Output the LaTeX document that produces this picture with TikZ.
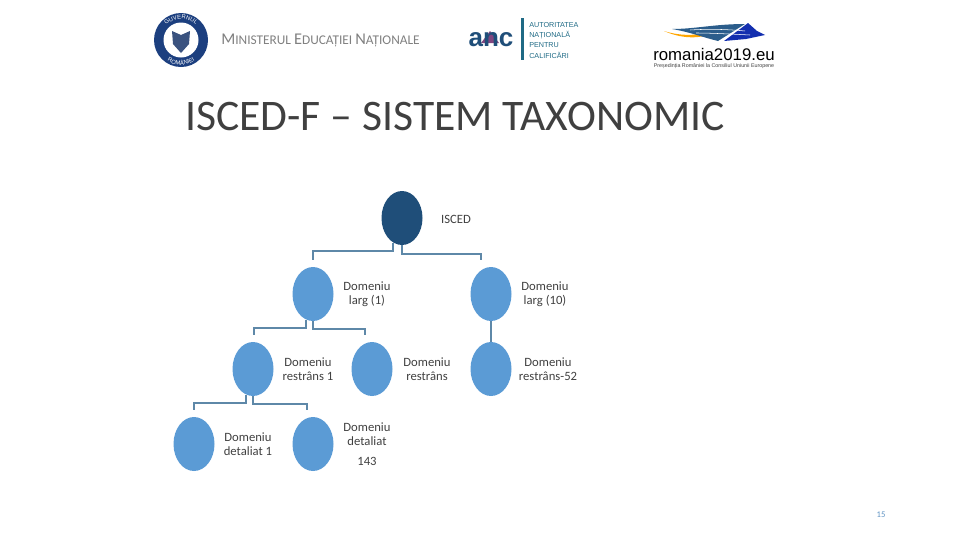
\documentclass[tikz,border=0pt]{standalone}
\usepackage{fontspec}
\setmainfont{Carlito}
\newfontfamily\logofont{Liberation Sans}
\usetikzlibrary{shapes.geometric,decorations.text}
\definecolor{darkblue}{HTML}{1F4E79}
\definecolor{midblue}{HTML}{5B9BD5}
\definecolor{linkblue}{HTML}{5E88A8}
\definecolor{seal}{HTML}{1C3F7F}
\definecolor{ancteal}{HTML}{1F6A85}
\definecolor{textgrey}{HTML}{404040}
\tikzset{
  bubble/.style={ellipse,fill=midblue,minimum width=30.75pt,minimum height=40.5pt,inner sep=0pt},
  link/.style={draw=linkblue,line width=1.5pt},
  lbl/.style={align=center,inner sep=0pt,text=textgrey,font=\fontsize{9.5}{10.5}\selectfont},
  logotxt/.style={inner sep=0pt,anchor=west,text=ancteal,font=\logofont\fontsize{5.4}{5.4}\selectfont}
}
\begin{document}
\begin{tikzpicture}[x=0.75pt,y=-0.75pt]
  \useasboundingbox (0,0) rectangle (960,540);

  % sigla minister
  \fill[seal] (181,40) circle (27);
  \fill[white] (181,40) circle (17.5);
  \fill[seal!70!gray] (172,31) -- (181,35) -- (190,31) -- (189,44) -- (181,53) -- (173,44) -- cycle;
  \path[decorate,decoration={text along path,text align=center,
    text={|\logofont\fontsize{4.4}{4.4}\selectfont\color{white}|GUVERNUL}}]
    (160,40) arc[start angle=180,end angle=360,radius=21];
  \path[decorate,decoration={text along path,text align=center,
    text={|\logofont\fontsize{4.4}{4.4}\selectfont\color{white}|ROMÂNIEI}}]
    (156,40) arc[start angle=180,end angle=0,radius=25];
  \node[inner sep=0pt,anchor=west,text=gray,font=\fontsize{12.3}{12.3}\selectfont] (minister) at (221,40)
    {M\fontsize{10}{10}\selectfont INISTERUL \fontsize{12.3}{12.3}\selectfont E\fontsize{10}{10}\selectfont DUCAȚIEI \fontsize{12.3}{12.3}\selectfont N\fontsize{10}{10}\selectfont AȚIONALE};

  % sigla anc
  \fill[violet!45!gray] (481,43) -- (490,31) -- (499,43) -- cycle;
  \node[inner sep=0pt,text=darkblue,font=\logofont\bfseries\fontsize{19.5}{19.5}\selectfont] (anc) at (491,40) {anc};
  \fill[ancteal] (520.5,18) rectangle (523.5,60);
  \node[logotxt] (anc1) at (529,25) {AUTORITATEA};
  \node[logotxt] (anc2) at (529,35) {NAȚIONALĂ};
  \node[logotxt] (anc3) at (529,45) {PENTRU};
  \node[logotxt] (anc4) at (529,55) {CALIFICĂRI};

  % sigla romania
  \fill[orange!70!yellow] (664,31) .. controls (680,36) and (695,36) .. (706,32) -- (708,35) .. controls (695,39) and (680,38) .. cycle;
  \fill[darkblue!80!midblue] (672,29) .. controls (695,29) and (715,24) .. (745,24) -- (718,41) .. controls (705,38) and (690,32) .. cycle;
  \fill[blue!40!darkblue] (748,23) -- (757,31) -- (765,35) -- (746,39) -- (724,41) -- cycle;
  \draw[white,line width=0.4pt] (690,30) .. controls (705,29) and (725,29) .. (745,31);
  \draw[white,line width=0.4pt] (696,33) .. controls (710,33) and (730,34) .. (750,35);
  \node[inner sep=0pt,text=black,font=\logofont\fontsize{12.6}{12.6}\selectfont] (ro) at (714,54) {romania2019.eu};
  \node[inner sep=0pt,text=textgrey,font=\logofont\fontsize{4}{4}\selectfont] (rosub) at (714,66) {Președinția României la Consiliul Uniunii Europene};

  % titlu
  \node[inner sep=0pt,text=textgrey,font=\fontsize{32.7}{38}\selectfont] (title) at (455,116) {ISCED-F -- SISTEM TAXONOMIC};

  % noduri
  \node[bubble,fill=darkblue] (isced) at (402,218) {};
  \node[bubble] (larg1) at (313,294) {};
  \node[bubble] (larg10) at (491,294) {};
  \node[bubble] (restrans1) at (253,369) {};
  \node[bubble] (restrans) at (372,369) {};
  \node[bubble] (restrans52) at (491,369) {};
  \node[bubble] (detaliat1) at (194,444) {};
  \node[bubble] (detaliat) at (313,444) {};

  % capete libere
  \coordinate (endLarg1) at (313,260);
  \coordinate (endLarg10) at (481,260);
  \coordinate (endRestrans1) at (254,335);
  \coordinate (endRestrans) at (365,335);
  \coordinate (endDetaliat1) at (194,410);
  \coordinate (endDetaliat) at (307,410);

  % legaturi
  \draw[link] (isced.250) -- ++(0,8) -| (endLarg1);
  \draw[link] (isced.south) -- ++(0,9) -| (endLarg10);
  \draw[link] (larg1.255) -- ++(0,8) -| (endRestrans1);
  \draw[link] (larg1.south) -- ++(0,8) -| (endRestrans);
  \draw[link] (larg10.south) -- (restrans52.north);
  \draw[link] (restrans1.255) -- ++(0,8) -| (endDetaliat1);
  \draw[link] (restrans1.south) -- ++(0,8) -| (endDetaliat);

  % etichete
  \node[lbl] (tIsced) at (456,219) {ISCED};
  \node[lbl] (tLarg1) at (367,294) {Domeniu\\larg (1)};
  \node[lbl] (tLarg10) at (545,294) {Domeniu\\larg (10)};
  \node[lbl] (tRestrans1) at (308,369) {Domeniu\\restrâns 1};
  \node[lbl] (tRestrans) at (427,369) {Domeniu\\restrâns};
  \node[lbl] (tRestrans52) at (548,369) {Domeniu\\restrâns-52};
  \node[lbl] (tDetaliat1) at (248,444) {Domeniu\\detaliat 1};
  \node[lbl] (tDetaliat) at (367,434) {Domeniu\\detaliat};
  \node[lbl] (tNr) at (367,461) {143};
  \node[lbl,text=midblue!80!gray,font=\fontsize{6.5}{7}\selectfont] (page) at (881,515) {15};
\end{tikzpicture}
\end{document}
